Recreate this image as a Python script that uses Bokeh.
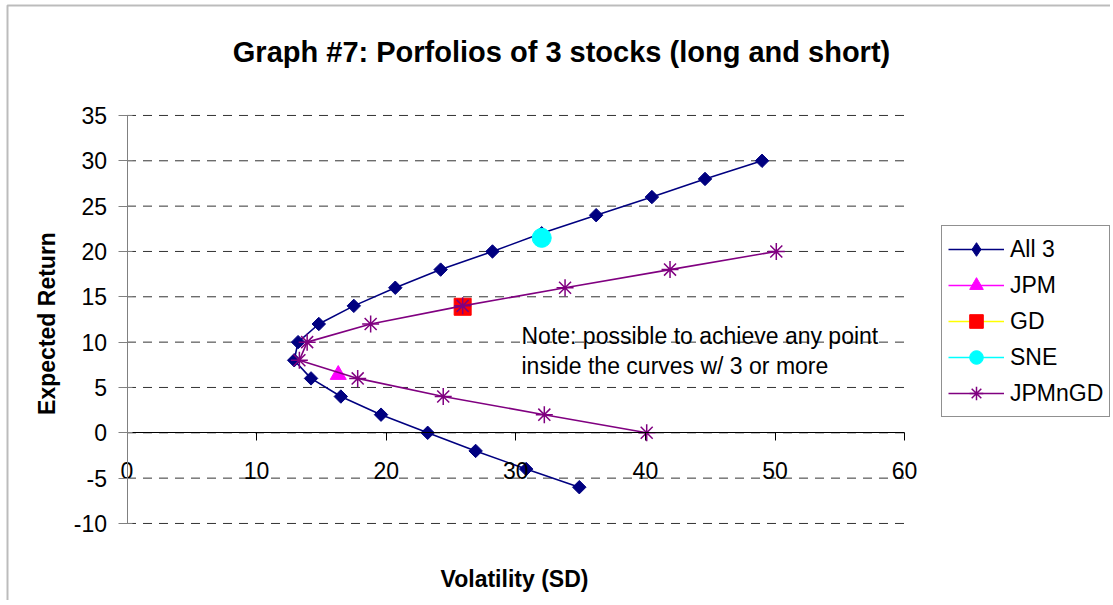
import math
from bokeh.plotting import figure
from bokeh.models import (Range1d, FixedTicker, Label, Legend, LegendItem,
                          BoxAnnotation)
from bokeh.embed import file_html
from bokeh.resources import INLINE

# ---------------- data ----------------
all3_vol = [49.0, 44.6, 40.5, 36.2, 32.0, 28.2, 24.2, 20.7, 17.5, 14.8,
            13.2, 12.9, 14.2, 16.5, 19.6, 23.2, 26.9, 30.8, 34.9]
all3_ret = [30, 28, 26, 24, 22, 20, 18, 16, 14, 12, 10, 8, 6, 4, 2, 0, -2, -4, -6]

jpmngd_vol = [50.1, 41.9, 33.8, 25.9, 18.8, 13.9, 13.3, 17.8, 24.4, 32.2, 40.1]
jpmngd_ret = [20, 18, 16, 14, 12, 10, 8, 6, 4, 2, 0]

jpm_vol = [16.3]
jpm_ret = [6.4]
gd_vol = [25.9]
gd_ret = [13.9]
sne_vol = [32.0]
sne_ret = [21.5]

x_ticks = [0, 10, 20, 30, 40, 50, 60]
y_ticks = [-10, -5, 0, 5, 10, 15, 20, 25, 30, 35]
y_tick_labels = {t: str(t) for t in y_ticks}   # plain hyphen minus

series_names = ["All 3", "JPM", "GD", "SNE", "JPMnGD"]
title_text = "Graph #7: Porfolios of 3 stocks (long and short)"
x_title = "Volatility (SD)"
y_title = "Expected Return"
note_lines = ["Note: possible to achieve any point",
              "inside the curves w/ 3 or more"]

FONT = "Liberation Sans"
NAVY = "#000080"
PURPLE = "#800080"

# ---------------- figure (frame covers the whole canvas) ----------------
W, H = 1110, 600
p = figure(width=W, height=H, output_backend="svg", toolbar_location=None,
           x_range=Range1d(-9.761, 75.887), y_range=Range1d(-18.496, 47.679),
           min_border=0, min_border_left=0, min_border_right=0,
           min_border_top=0, min_border_bottom=0)
p.outline_line_color = None
p.background_fill_color = "white"
p.border_fill_color = "white"
p.xgrid.visible = False
p.ygrid.visible = False

xa = p.xaxis[0]
xa.fixed_location = 0
xa.bounds = (x_ticks[0], x_ticks[-1])
xa.ticker = FixedTicker(ticks=x_ticks)
xa.axis_line_color = "black"
xa.major_tick_line_color = "black"
xa.major_tick_out = 8
xa.major_tick_in = 0
xa.minor_tick_line_color = None
xa.major_label_standoff = 21
xa.major_label_text_font = FONT
xa.major_label_text_font_size = "23px"
xa.major_label_text_color = "black"

ya = p.yaxis[0]
ya.fixed_location = 0
ya.bounds = (y_ticks[0], y_ticks[-1])
ya.ticker = FixedTicker(ticks=y_ticks)
ya.major_label_overrides = y_tick_labels
ya.axis_line_color = "#808080"
ya.major_tick_line_color = "#808080"
ya.major_tick_out = 9
ya.major_tick_in = 5
ya.minor_tick_line_color = None
ya.major_label_standoff = 11
ya.major_label_text_font = FONT
ya.major_label_text_font_size = "23px"
ya.major_label_text_color = "black"

# horizontal dashed gridlines across the plot area
p.segment(x0=[x_ticks[0]] * len(y_ticks), y0=y_ticks,
          x1=[x_ticks[-1]] * len(y_ticks), y1=y_ticks,
          line_color="#333333", line_width=1, line_dash="9 7")

# ---------------- series ----------------
r_a_l = p.line(all3_vol, all3_ret, line_color=NAVY, line_width=1.6)
r_a_m = p.scatter(all3_vol, all3_ret, marker="square", angle=math.pi / 4,
                  size=9.5, fill_color=NAVY, line_color=NAVY)
# hidden glyph used only for the key (diamond shape in the legend)
r_a_key = p.scatter(all3_vol, all3_ret, marker="diamond", size=14,
                    fill_color=NAVY, line_color=NAVY, visible=False)

r_j_l = p.line(jpm_vol, jpm_ret, line_color="#FF00FF", line_width=1.6)
r_j_m = p.scatter(jpm_vol, jpm_ret, marker="triangle", size=16,
                  fill_color="#FF00FF", line_color="#FF00FF")

r_g_l = p.line(gd_vol, gd_ret, line_color="#FFFF00", line_width=1.6)
r_g_m = p.scatter(gd_vol, gd_ret, marker="square", size=17,
                  fill_color="#FF0000", line_color="#FF0000")

r_s_l = p.line(sne_vol, sne_ret, line_color="#00FFFF", line_width=1.6)
r_s_m = p.scatter(sne_vol, sne_ret, marker="circle", size=19,
                  fill_color="#00FFFF", line_color="#00FFFF")

r_p_l = p.line(jpmngd_vol, jpmngd_ret, line_color=PURPLE, line_width=1.6)
r_p_m = p.scatter(jpmngd_vol, jpmngd_ret, marker="asterisk", size=17,
                  line_color=PURPLE, line_width=1.5)

legend = Legend(items=[
    LegendItem(label=series_names[0], renderers=[r_a_l, r_a_key]),
    LegendItem(label=series_names[1], renderers=[r_j_l, r_j_m]),
    LegendItem(label=series_names[2], renderers=[r_g_l, r_g_m]),
    LegendItem(label=series_names[3], renderers=[r_s_l, r_s_m]),
    LegendItem(label=series_names[4], renderers=[r_p_l, r_p_m]),
], location=(941, H - 417))
legend.click_policy = "none"
legend.inactive_fill_alpha = 0
legend.label_text_font = FONT
legend.label_text_font_size = "23px"
legend.label_text_color = "black"
legend.glyph_width = 56
legend.glyph_height = 34
legend.label_height = 34
legend.spacing = 2
legend.padding = 6
legend.margin = 0
legend.label_standoff = 6
legend.border_line_color = "#222222"
legend.border_line_width = 1
legend.background_fill_color = "white"
legend.background_fill_alpha = 1
p.add_layout(legend, "center")

# ---------------- texts ----------------
p.add_layout(Label(x=561, y=51, x_units="canvas", y_units="canvas",
                   text=title_text, text_font=FONT, text_font_size="29px",
                   text_font_style="bold", text_align="center",
                   text_baseline="alphabetic", text_color="black"))
p.add_layout(Label(x=514, y=578, x_units="canvas", y_units="canvas",
                   text=x_title, text_font=FONT, text_font_size="23px",
                   text_font_style="bold", text_align="center",
                   text_baseline="alphabetic", text_color="black"))
p.add_layout(Label(x=46, y=323, x_units="canvas", y_units="canvas",
                   text=y_title, text_font=FONT, text_font_size="23px",
                   text_font_style="bold", text_align="center",
                   text_baseline="middle", angle=math.pi / 2,
                   text_color="black"))
for i, line in enumerate(note_lines):
    p.add_layout(Label(x=521, y=335 + 30 * i, x_units="canvas", y_units="canvas",
                       text=line, text_font=FONT, text_font_size="23px",
                       text_align="left", text_baseline="alphabetic",
                       text_color="black"))

# chart border (left & top edges visible in the picture)
p.add_layout(BoxAnnotation(left=7, right=W + 50, top=5, bottom=H + 50,
                           left_units="canvas", right_units="canvas",
                           top_units="canvas", bottom_units="canvas",
                           fill_alpha=0, line_color="#222222", line_width=2,
                           level="overlay"))

open("out.html", "w").write(file_html(p, INLINE))
